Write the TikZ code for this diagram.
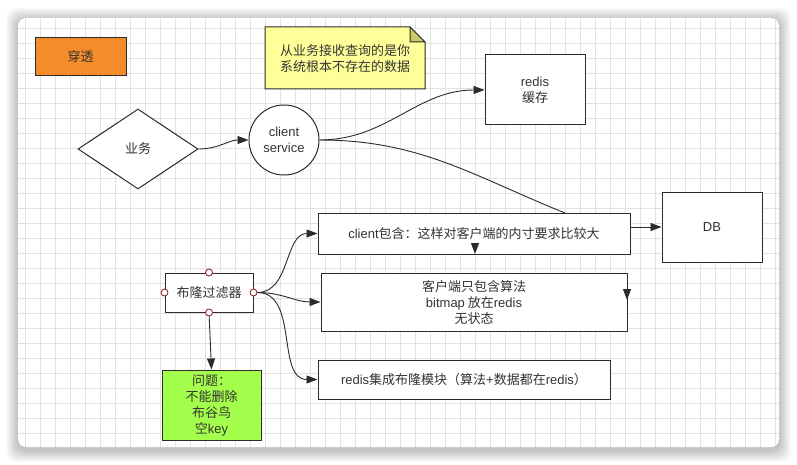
\documentclass[tikz,border=0pt]{standalone}
\usepackage{fontspec}
\setmainfont{Noto Sans CJK SC}
\newfontfamily\lat{Liberation Sans}
\usetikzlibrary{arrows.meta,shapes.geometric}
\definecolor{ink}{HTML}{2B2B2B}
\definecolor{txt}{HTML}{333333}
\definecolor{gridc}{HTML}{E2E2E2}
\definecolor{orangec}{HTML}{F68B2C}
\definecolor{notec}{HTML}{FFFF99}
\definecolor{foldc}{HTML}{CACA6A}
\definecolor{greenc}{HTML}{A4FF4C}
\definecolor{portc}{HTML}{8B1A1A}
\begin{document}
\begin{tikzpicture}[x=1pt,y=-1pt,
  every node/.style={font=\fontsize{13}{16}\selectfont, text=txt, align=center},
  box/.style={draw=ink, line width=1pt, fill=white, inner sep=0pt},
  conn/.style={draw=ink, line width=0.9pt},
  arr/.style={conn, -{Triangle[length=11pt,width=8pt]}},
  port/.style={circle, draw=portc, fill=white, line width=0.8pt, minimum size=7pt, inner sep=0pt}]
\useasboundingbox (0,0) rectangle (797,465);
\fill[white] (0,0) rectangle (797,465);
% panel shadow
\foreach \i in {1,...,12}
  \fill[black, opacity=0.02, rounded corners=10pt] (18-\i,20-\i) rectangle (779+\i,450+\i);
\fill[white, rounded corners=8pt] (18,18) rectangle (779,447);
% grid
\begin{scope}
\clip[rounded corners=8pt] (18,18) rectangle (779,447);
\foreach \x in {25,40,...,775} \draw[gridc, line width=0.8pt] (\x,18) -- (\x,447);
\foreach \y in {28,43,...,443} \draw[gridc, line width=0.8pt] (18,\y) -- (779,\y);
\end{scope}

% nodes
\node[box, fill=orangec, minimum width=91pt, minimum height=38pt] (pt) at (80.5,57) {穿透};

\fill[notec, draw=ink, line width=1pt] (265,27) -- (410,27) -- (425,42) -- (425,89) -- (265,89) -- cycle;
\fill[foldc, draw=ink, line width=1pt] (410,27) -- (410,42) -- (425,42) -- cycle;
\node (note) at (345,59) {从业务接收查询的是你\\系统根本不存在的数据};

\node[box, diamond, minimum width=120pt, minimum height=80pt] (yw) at (138,149) {业务};
\node[box, circle, minimum size=70pt] (cs) at (284,140) {{\lat client}\\{\lat service}};
\node[box, minimum width=100pt, minimum height=70pt] (redis) at (535,90) {{\lat redis}\\缓存};
\node[box, minimum width=100pt, minimum height=70pt] (db) at (712,227) {\lat DB};
\node[box, minimum width=312pt, minimum height=41pt] (cli) at (474,233.5) {{\lat client}包含：这样对客户端的内寸要求比较大};
\node[box, minimum width=306pt, minimum height=58pt] (b2) at (474,302) {客户端只包含算法\\{\lat bitmap} 放在{\lat redis}\\无状态};
\node[box, minimum width=292pt, minimum height=39pt] (b3) at (464,379.5) {{\lat redis}集成布隆模块（算法{\lat +}数据都在{\lat redis}）};
\node[box, minimum width=88pt, minimum height=39pt] (bf) at (209,292.5) {布隆过滤器};
\node[box, fill=greenc, minimum width=99pt, minimum height=70pt] (q) at (211.5,405) {问题：\\不能删除\\布谷鸟\\空{\lat key}};

\node[port] (pn) at (bf.north) {};
\node[port] (pw) at (bf.west) {};
\node[port] (pe) at (bf.east) {};
\node[port] (ps) at (bf.south) {};

\coordinate (clitop) at (565,213);
\coordinate (t1a) at (475,243);
\coordinate (t1b) at (475,254);
\coordinate (t2a) at (627,289);
\coordinate (t2b) at (627,300);

% connectors
\draw[arr] (yw.east) to[out=0,in=180] (cs.west);
\draw[arr] (cs.east) to[out=0,in=180] (redis.west);
\draw[conn] (cs.east) to[out=0,in=158] (clitop);
\draw[arr] (cli.east |- db.west) -- (db.west);
\draw[arr] (t1a) -- (t1b);
\draw[arr] (t2a) -- (t2b);
\draw[arr] (pe) to[out=0,in=180] (cli.west);
\draw[arr] (pe) to[out=0,in=180] (b2.west);
\draw[arr] (pe) to[out=0,in=180] (b3.west);
\draw[arr] (ps) -- (q.north);
\end{tikzpicture}
\end{document}
